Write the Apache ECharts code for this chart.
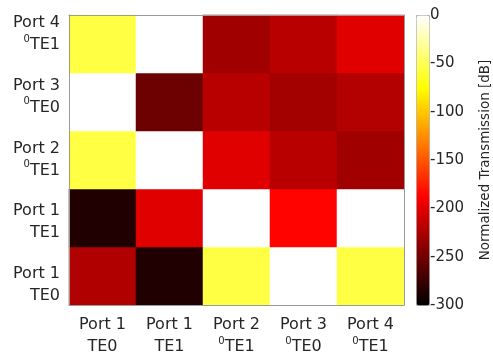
<!DOCTYPE html>
<html>
<head>
<meta charset="utf-8">
<script src="https://cdn.jsdelivr.net/npm/echarts@6/dist/echarts.min.js"></script>
<style>
  html, body { margin: 0; padding: 0; background: #fff; }
  #chart { width: 493px; height: 355px; }
</style>
</head>
<body>
<div id="chart"></div>
<script>
// Port / mode labels, shared by both axes (bottom-to-top on y, left-to-right on x)
const ports = ['Port 1', 'Port 1', 'Port 2', 'Port 3', 'Port 4'];
const modes = ['TE0', 'TE1', 'TE1', 'TE0', 'TE1'];
const modeSup = ['', '', '0', '0', '0'];

// Normalized transmission [dB], one array per output row (bottom to top)
const rowPort1TE0 = [-222, -286, -55, 0, -55];
const rowPort1TE1 = [-286, -201, 0, -186, 0];
const rowPort2TE1 = [-55, 0, -201, -219, -229];
const rowPort3TE0 = [0, -252, -219, -228, -221];
const rowPort4TE1 = [-55, 0, -229, -219, -201];

// Colour scale range and tick step
const scaleMin = -300;
const scaleMax = 0;
const scaleStep = 50;

const rows = [rowPort1TE0, rowPort1TE1, rowPort2TE1, rowPort3TE0, rowPort4TE1];
const categories = ports.map((p, i) => p + ' ' + modeSup[i] + modes[i]);
const cells = [];
rows.forEach((row, y) => row.forEach((v, x) => cells.push([x, y, v])));

const FONT = 'DejaVu Sans';
const TEXT = '#262626';
const LINE = '#9a9a9a';

function portLabel(value, index) {
  const sup = modeSup[index] ? '{s|' + modeSup[index] + '}' : '';
  return '{p|' + ports[index] + '}\n' + sup + '{m|' + modes[index] + '}';
}
const labelRich = {
  p: { fontFamily: FONT, fontSize: 16, lineHeight: 22, color: TEXT },
  m: { fontFamily: FONT, fontSize: 16, lineHeight: 22, color: TEXT },
  s: { fontFamily: FONT, fontSize: 10, lineHeight: 22, color: TEXT, verticalAlign: 'top', padding: [0, 0, 8, 0] }
};

// MATLAB-style "hot" map, sampled at eight equal steps
const hot = ['#000000', '#550000', '#aa0000', '#ff0000', '#ff5500', '#ffaa00', '#ffff00', '#ffff80', '#ffffff'];

const chart = echarts.init(document.getElementById('chart'), null, { renderer: 'canvas' });
chart.setOption({
  animation: false,
  backgroundColor: '#fff',
  grid: [
    { left: 69, top: 15, width: 335, height: 290 },
    { left: 69, top: 3, width: 335, height: 313 },
    { left: 416, top: 15, width: 13, height: 290 }
  ],
  xAxis: [
    {
      gridIndex: 0, type: 'category', data: categories, position: 'bottom', z: 10,
      axisLine: { lineStyle: { color: LINE, width: 1 } },
      axisTick: { inside: true, alignWithLabel: true, length: 3, lineStyle: { color: LINE } },
      axisLabel: { formatter: portLabel, rich: labelRich, margin: 9, interval: 0 },
      splitLine: { show: false }
    },
    {
      gridIndex: 0, type: 'category', data: categories, position: 'top', z: 10,
      axisLine: { lineStyle: { color: LINE, width: 1 } },
      axisTick: { inside: true, alignWithLabel: true, length: 3, lineStyle: { color: LINE } },
      axisLabel: { show: false }
    },
    { gridIndex: 1, type: 'category', data: categories, show: false },
    { gridIndex: 2, type: 'value', show: false }
  ],
  yAxis: [
    {
      gridIndex: 0, type: 'category', data: categories, position: 'left', z: 10,
      axisLine: { lineStyle: { color: LINE, width: 1 } },
      axisTick: { inside: true, alignWithLabel: true, length: 3, lineStyle: { color: LINE } },
      axisLabel: { show: false }
    },
    {
      gridIndex: 0, type: 'category', data: categories, position: 'right', z: 10,
      axisLine: { lineStyle: { color: LINE, width: 1 } },
      axisTick: { inside: true, alignWithLabel: true, length: 3, lineStyle: { color: LINE } },
      axisLabel: { show: false }
    },
    {
      gridIndex: 1, type: 'category', data: categories, position: 'left',
      axisLine: { show: false }, axisTick: { show: false },
      axisLabel: { formatter: portLabel, rich: labelRich, margin: 9, interval: 0, align: 'right' }
    },
    {
      gridIndex: 2, type: 'value', position: 'right', min: scaleMin, max: scaleMax, interval: scaleStep, z: 10,
      axisLine: { show: false },
      axisTick: { show: false },
      splitLine: { show: false },
      axisLabel: { margin: 2, fontFamily: FONT, fontSize: 15, color: TEXT },
      name: 'Normalized Transmission [dB]',
      nameLocation: 'middle',
      nameRotate: 90,
      nameGap: 50,
      nameTextStyle: { fontFamily: FONT, fontSize: 13.5, color: TEXT }
    }
  ],
  visualMap: {
    type: 'continuous',
    min: scaleMin,
    max: scaleMax,
    calculable: false,
    left: 416,
    top: 15,
    itemWidth: 13,
    itemHeight: 290,
    padding: 0,
    borderColor: '#b0b0b0',
    borderWidth: 1,
    seriesIndex: 0,
    inRange: { color: hot }
  },
  series: [{
    type: 'heatmap',
    xAxisIndex: 0,
    yAxisIndex: 0,
    data: cells,
    itemStyle: { borderWidth: 0 },
    emphasis: { disabled: true }
  }]
});
</script>
</body>
</html>
